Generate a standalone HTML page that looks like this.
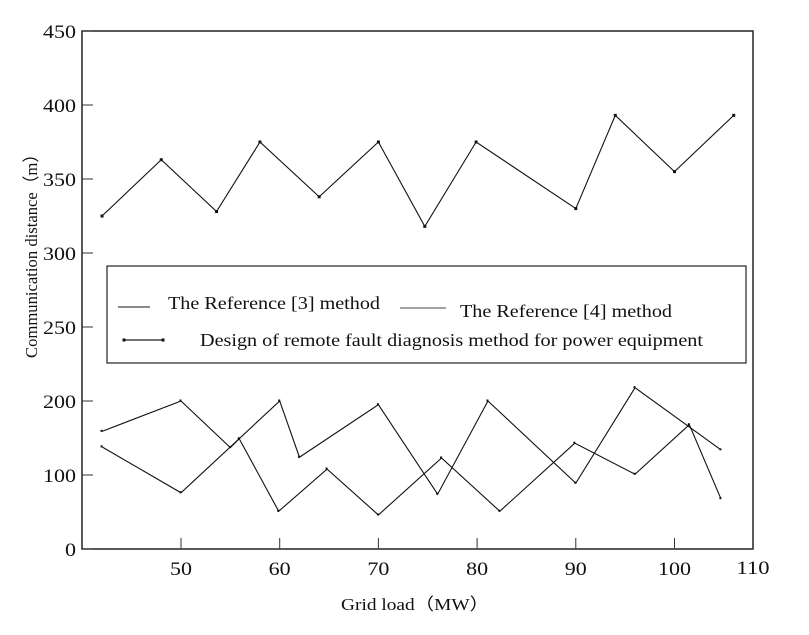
<!DOCTYPE html>
<html><head><meta charset="utf-8"><style>
body{margin:0;background:#fff;position:relative}
svg text{font-family:"Liberation Serif",serif;fill:#111}
</style></head><body>
<svg width="809" height="630" xmlns="http://www.w3.org/2000/svg">
<g id="plot"></g>
</svg>
<script>
const xTicks=[50,60,70,80,90,100];
const yTicks=[0,100,200,250,300,350,400,450];
const xA=[42,50,55,55.9,59.9,64.8,70,76.4,82.3,89.9,96,101.5,104.7];
const yA=[159,200,137,149,51,108,46,123,51,143,101,168,68];
const xB=[42,50,60,62,70,76,81.1,90,96,104.7];
const yB=[138,76,200,124,195,74,200,89,209,134];
const xC=[42,48,53.6,58,64,70,74.7,79.9,90,94,100,106];
const yC=[325,363,328,375,338,375,318,375,330,393,355,393];
const L=82,R=753,T=31,B=549;
function sx(v){return 181+(v-50)*9.87;}
function sy(v){return v<=200?B-v*0.74:401-(v-200)*1.48;}
const svg=document.querySelector('svg');const NS='http://www.w3.org/2000/svg';
function mk(t,a,p){const e=document.createElementNS(NS,t);for(const k in a)e.setAttribute(k,a[k]);(p||svg).appendChild(e);return e;}
const frame=mk('rect',{x:L,y:T,width:R-L,height:B-T,fill:'none',stroke:'#222','stroke-width':1.5});


xTicks.forEach(v=>{const l=mk('line',{x1:sx(v),x2:sx(v),y1:B,y2:B-11,stroke:'#333'});


const s=String(v);
const t=mk('text',{x:sx(v),y:B+26,'text-anchor':'middle','font-size':19,textLength:s.length*11,lengthAdjust:'spacingAndGlyphs'});t.textContent=s;

});
const t110=mk('text',{x:R,y:B+25,'text-anchor':'middle','font-size':19,textLength:33,lengthAdjust:'spacingAndGlyphs'});t110.textContent='110';


yTicks.forEach(v=>{const l=mk('line',{x1:L,x2:L+11,y1:sy(v),y2:sy(v),stroke:'#333'});


const s=String(v);
const t=mk('text',{x:L-6,y:sy(v)+7,'text-anchor':'end','font-size':19,textLength:s.length*11,lengthAdjust:'spacingAndGlyphs'});t.textContent=s;

});
function series(xs,ys,name,markers){
 const p=mk('polyline',{points:xs.map((x,i)=>sx(x)+','+sy(ys[i])).join(' '),fill:'none',stroke:'#111','stroke-width':1.1});
 
 
 xs.forEach((x,i)=>{const c=mk('rect',{x:sx(x)-1.5,y:sy(ys[i])-1.5,width:markers?3:2,height:markers?3:2,fill:'#111'});
 
 });
}
series(xA,yA,'reference-3-line',false);
series(xB,yB,'reference-4-line',false);
series(xC,yC,'design-method-line',true);
</script>
<svg width="809" height="630" style="position:absolute;left:0;top:0" xmlns="http://www.w3.org/2000/svg">
<g>
<rect x="107" y="266" width="639" height="97" fill="#fff" stroke="#222" stroke-width="1.2"/>
<line x1="118" y1="307" x2="150" y2="307" stroke="#444" stroke-width="1.2"/>
<text x="168" y="309" font-size="18" textLength="212" lengthAdjust="spacingAndGlyphs">The Reference [3] method</text>
<line x1="400" y1="308" x2="446" y2="308" stroke="#444" stroke-width="1.1"/>
<text x="460" y="317" font-size="18" textLength="212" lengthAdjust="spacingAndGlyphs">The Reference [4] method</text>
<line x1="124" y1="340" x2="163" y2="340" stroke="#222" stroke-width="1.2"/>
<rect x="122.5" y="338.5" width="3" height="3" fill="#111"/><rect x="161.5" y="338.5" width="3" height="3" fill="#111"/>
<text x="200" y="346" font-size="18" textLength="503" lengthAdjust="spacingAndGlyphs">Design of remote fault diagnosis method for power equipment</text>
</g>
<text x="341" y="610" font-size="17" textLength="148" lengthAdjust="spacingAndGlyphs" font-family="Liberation Serif, Noto Serif CJK SC, serif">Grid load（MW）</text>
<text transform="translate(37,358) rotate(-90)" font-size="17" textLength="212" lengthAdjust="spacingAndGlyphs" font-family="Liberation Serif, Noto Serif CJK SC, serif">Communication distance（m）</text>
</svg>
</body></html>
